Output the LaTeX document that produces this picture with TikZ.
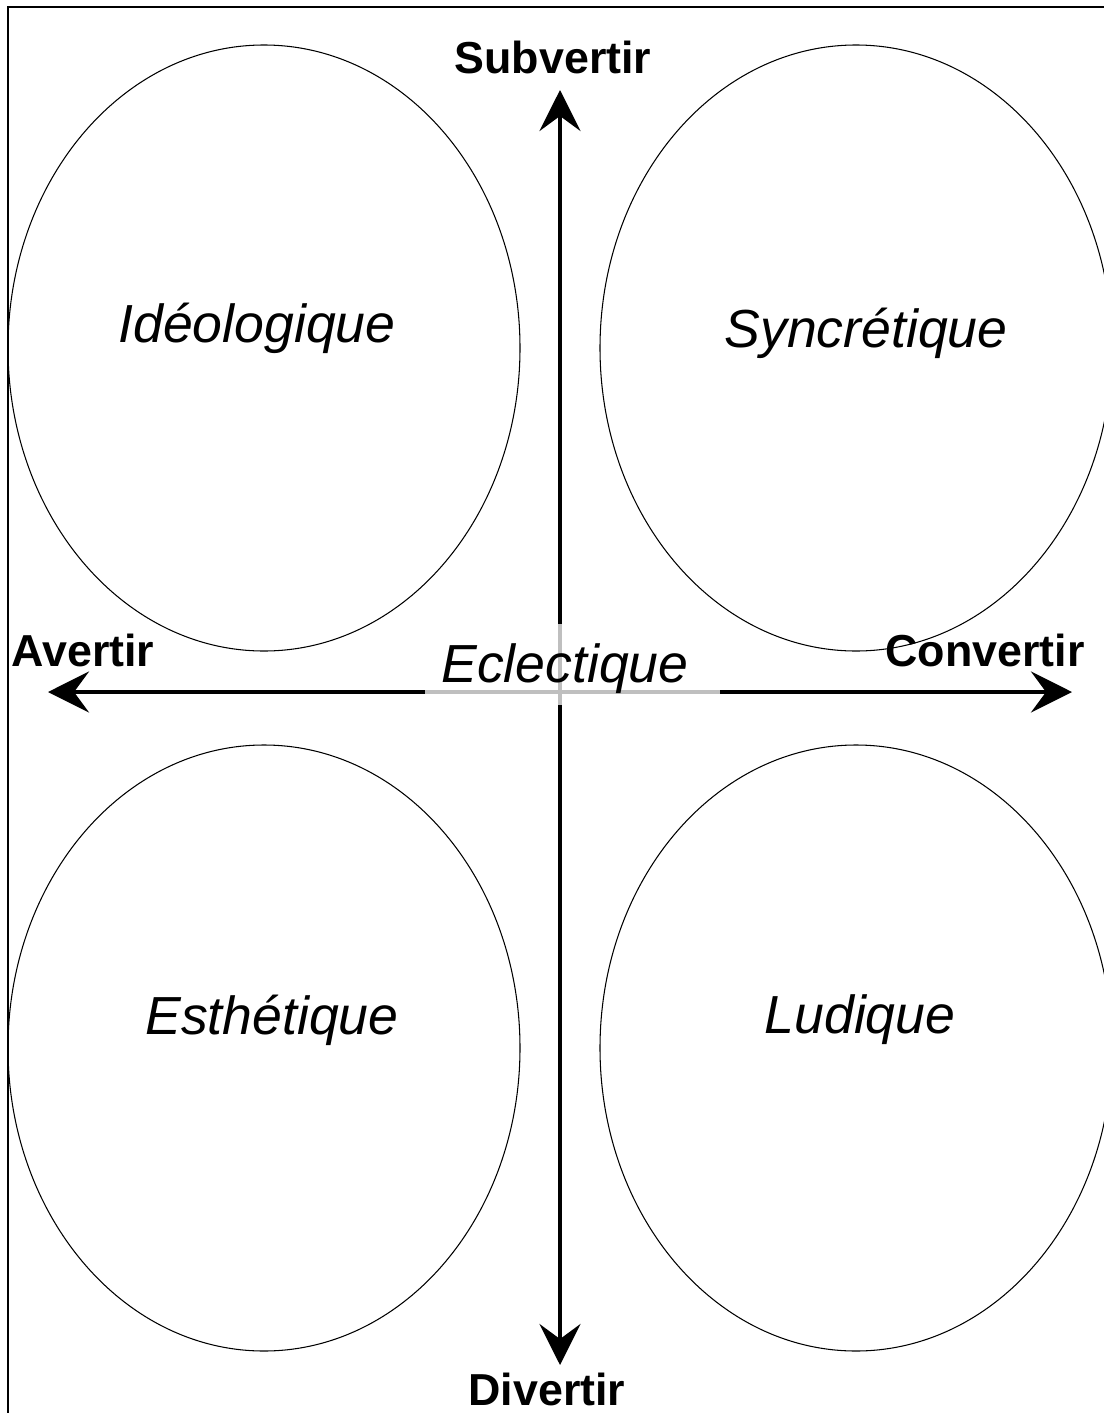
\documentclass[tikz,border=0pt]{standalone}
\usepackage{fontspec}
\setmainfont{Liberation Sans}
\usetikzlibrary{arrows.meta}

\begin{document}
\begin{tikzpicture}[x=.02cm, y=-.02cm,
    fleche/.style={line width=2.6pt, {Stealth[length=.82cm, width=.82cm, inset=.3cm]}-{Stealth[length=.82cm, width=.82cm, inset=.3cm]}},
    pole/.style={font=\bfseries\fontsize{25.5}{30}\selectfont},
    zone/.style={font=\itshape\fontsize{30.5}{36}\selectfont}]
    \def\rx{256} \def\ry{303}
    \useasboundingbox (0, 0) rectangle (1104, 1413);
    \clip (0, 0) rectangle (1104, 1413);

    \coordinate (haut) at (560, 90);
    \coordinate (bas) at (560, 1365);
    \coordinate (gauche) at (48, 692);
    \coordinate (droite) at (1072, 692);
    \coordinate (o) at (560, 692);

    % cadre
    \draw [line width=1.1pt] (8, 1430) -- (8, 7) -- (1120, 7);

    % les quatre zones
    \draw [line width=.6pt] (264, 348) ellipse [x radius=\rx, y radius=\ry];
    \draw [line width=.6pt] (856, 348) ellipse [x radius=\rx, y radius=\ry];
    \draw [line width=.6pt] (264, 1048) ellipse [x radius=\rx, y radius=\ry];
    \draw [line width=.6pt] (856, 1048) ellipse [x radius=\rx, y radius=\ry];

    \node [zone] (ideo) at (257, 328) {Idéologique};
    \node [zone] (syncr) at (866, 333) {Syncrétique};
    \node [zone] (esth) at (272, 1020) {Esthétique};
    \node [zone] (ludi) at (860, 1020) {Ludique};

    % axes
    \draw [fleche] (bas) -- (haut);
    \draw [fleche] (gauche) -- (droite);
    \draw [line width=2.6pt, gray!50] (425, 692) -- (720, 692);
    \draw [line width=2.6pt, gray!50] (560, 624) -- (560, 705);

    \node [zone] (eclec) at (565, 669) {Eclectique};

    \node [pole] (sub) at (553, 57) {Subvertir};
    \node [pole] (div) at (547, 1389) {Divertir};
    \node [pole] (aver) at (83, 650) {Avertir};
    \node [pole] (conv) at (985, 650) {Convertir};
\end{tikzpicture}
\end{document}
